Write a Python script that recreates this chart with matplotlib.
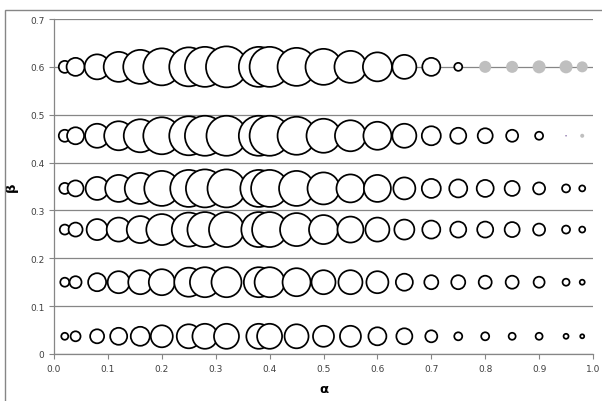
import matplotlib
matplotlib.use('Agg')
import matplotlib.pyplot as plt
from matplotlib.patches import Rectangle

# alpha positions shared by every row
alpha = [0.02, 0.04, 0.08, 0.12, 0.16, 0.2, 0.25, 0.28, 0.32, 0.38, 0.4, 0.45,
         0.5, 0.55, 0.6, 0.65, 0.7, 0.75, 0.8, 0.85, 0.9, 0.95, 0.98]

# bubble sizes (diameter units) per beta row
beta_rows = [0.6, 0.456, 0.346, 0.26, 0.15, 0.037]
size_060 = [12, 18, 25, 30, 34, 37, 39, 40, 41, 40, 40, 38, 36, 32, 29, 24, 18, 8]
size_046 = [12, 17, 24, 29, 33, 37, 39, 40, 40, 40, 40, 38, 34, 31, 28, 24, 19, 16, 15, 12, 8]
size_035 = [11, 16, 23, 27, 31, 35, 37, 38, 38, 37, 37, 35, 32, 28, 27, 22, 19, 18, 17, 15, 12, 8, 6]
size_026 = [10, 14, 21, 24, 27, 31, 34, 35, 35, 35, 35, 33, 29, 26, 24, 20, 18, 16, 16, 15, 12, 8, 6]
size_015 = [9, 12, 18, 22, 24, 26, 29, 30, 30, 30, 30, 28, 24, 24, 22, 17, 14, 14, 13, 13, 11, 7, 5]
size_004 = [7, 10, 14, 17, 19, 22, 24, 25, 25, 25, 25, 24, 21, 21, 18, 16, 12, 8, 8, 7, 7, 5, 4]
row_sizes = [size_060, size_046, size_035, size_026, size_015, size_004]

# grey (second) series
alpha_grey = [0.8, 0.85, 0.9, 0.95, 0.98, 0.98]
beta_grey = [0.6, 0.6, 0.6, 0.6, 0.6, 0.456]
size_grey = [12, 12, 13, 13, 11, 4]

# tiny third-series point
alpha_dot = [0.95]
beta_dot = [0.456]
size_dot = [1.5]

x_ticks = [0.0, 0.1, 0.2, 0.3, 0.4, 0.5, 0.6, 0.7, 0.8, 0.9, 1.0]
y_ticks = [0, 0.1, 0.2, 0.3, 0.4, 0.5, 0.6, 0.7]

DPI = 100
PX = 72 / DPI  # points per pixel
GRID = '#868686'

fig = plt.figure(figsize=(6.02, 4.02), dpi=DPI)
fig.patches.append(Rectangle((5 / 602, -0.1), 1.2, (402 - 11) / 402 + 0.1,
                             transform=fig.transFigure, fill=False,
                             edgecolor=GRID, linewidth=1.0))
ax = fig.add_axes([54 / 602, 47 / 402, 539 / 602, 335 / 402])

for b, sizes in zip(beta_rows, row_sizes):
    xs = alpha[:len(sizes)]
    ax.scatter(xs, [b] * len(xs), s=[(d * PX) ** 2 for d in sizes],
               facecolor='white', edgecolor='black', linewidths=1.25, zorder=3)

ax.scatter(alpha_grey, beta_grey, s=[(d * PX) ** 2 for d in size_grey],
           facecolor='#bfbfbf', edgecolor='none', zorder=3)
ax.scatter(alpha_dot, beta_dot, s=[(d * PX) ** 2 for d in size_dot],
           facecolor='#8064a2', edgecolor='none', zorder=3)

ax.set_xlim(0, 1.0)
ax.set_ylim(0, 0.7)
ax.set_xticks(x_ticks)
ax.set_xticklabels([f'{v:.1f}' for v in x_ticks])
ax.set_yticks(y_ticks)
ax.set_yticklabels(['0'] + [f'{v:.1f}' for v in y_ticks[1:]])
ax.tick_params(labelsize=6.5, labelcolor='#404040', color=GRID, length=3.5, width=0.8)
ax.yaxis.grid(True, color=GRID, linewidth=0.9)
ax.set_axisbelow(True)
for side in ['top', 'right']:
    ax.spines[side].set_visible(False)
for side in ['left', 'bottom']:
    ax.spines[side].set_color(GRID)
    ax.spines[side].set_linewidth(0.9)

ax.set_xlabel('α', fontsize=9.5, fontweight='bold')
ax.set_ylabel('β', fontsize=9.5, fontweight='bold')
ax.xaxis.set_label_coords(0.5, -0.084)
ax.yaxis.set_label_coords(-0.067, 0.5)

fig.savefig('out.png', dpi=DPI)
